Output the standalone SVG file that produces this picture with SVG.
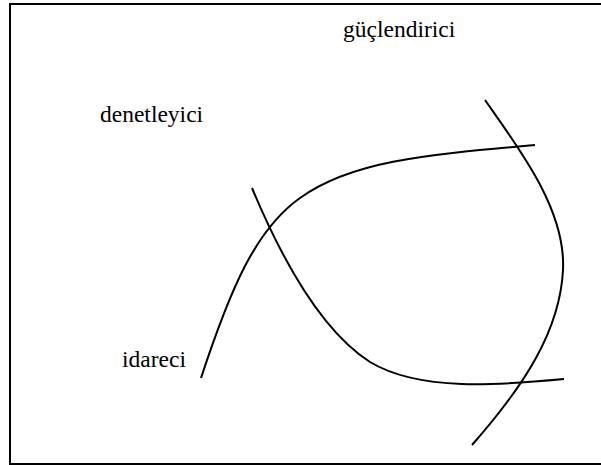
<svg xmlns="http://www.w3.org/2000/svg" width="601" height="465" viewBox="0 0 601 465">
<style>
.lbl{font-family:"Liberation Serif","Times New Roman",serif;font-size:23.5px;fill:#000}
.c{fill:none;stroke:#000;stroke-width:2}
</style>
<rect x="0" y="0" width="601" height="465" fill="#fff"/>
<rect x="10" y="4" width="600" height="460" fill="none" stroke="#000" stroke-width="2"/>
<g id="guclendirici"><text class="lbl" x="343" y="37">güçlendirici</text></g>
<g id="denetleyici"><text class="lbl" x="100" y="122">denetleyici</text></g>
<g id="idareci"><text class="lbl" x="122" y="367">idareci</text></g>
<g id="connectors">
<path class="c" d="M201,378 C230,290 255,230 300,198 C350,162 420,155 535,145"/>
<path class="c" d="M252,188 C280,255 320,330 370,362 C420,392 500,385 564,379"/>
<path class="c" d="M485,100 C520,150 566,210 563,270 C560,330 525,385 472,445"/>
</g>
</svg>
